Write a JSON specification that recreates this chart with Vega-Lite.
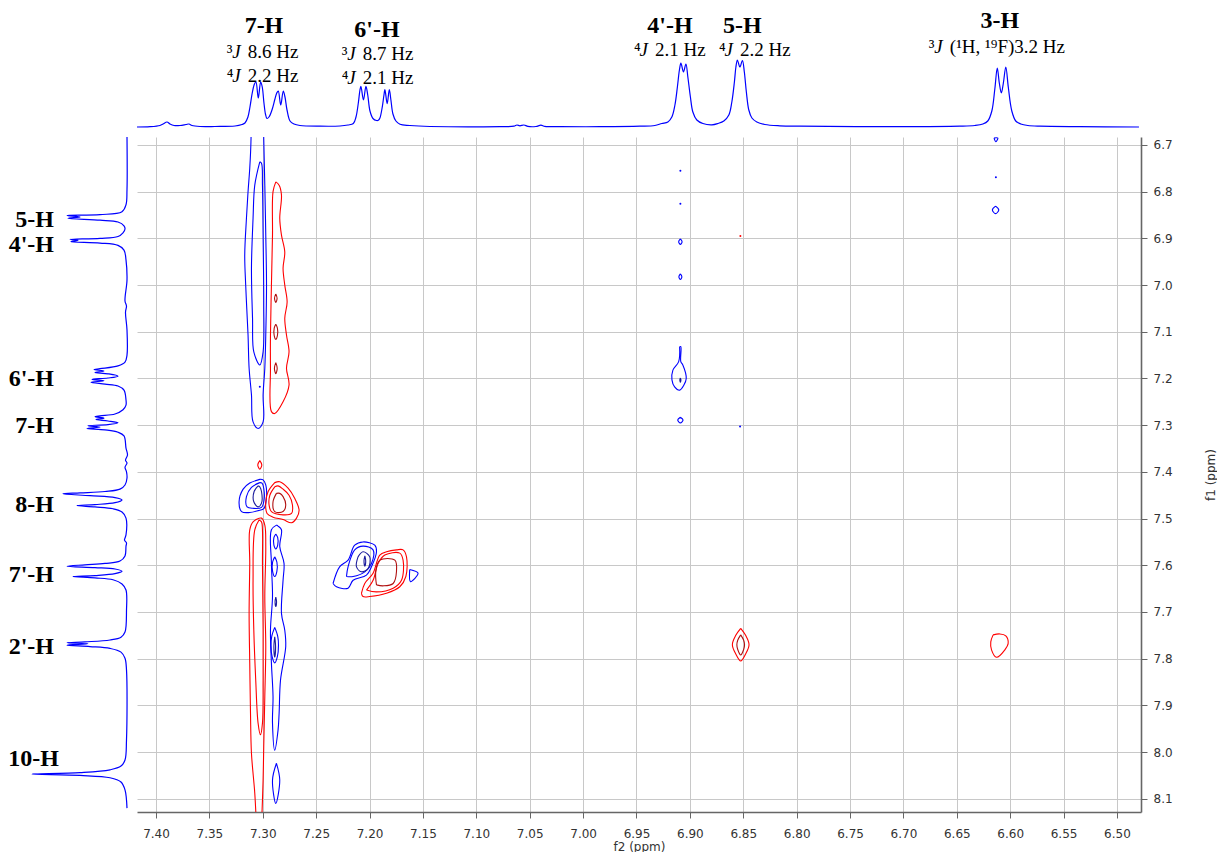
{
"$schema": "https://vega.github.io/schema/vega-lite/v6.json",
"padding": 0,
"background": "white",
"config": {"view": {"stroke": null}},
"columns": 2,
"spacing": 8,
"bounds": "flush",
"datasets": {
"top": [
{"x":7.4178,"v":0},{"x":7.4056,"v":0.3},{"x":7.3963,"v":1.5},{"x":7.3934,"v":3},{"x":7.3897,"v":5},{"x":7.3869,"v":3},{"x":7.3831,"v":1.5},{"x":7.3775,"v":1.5},{"x":7.3719,"v":2.5},{"x":7.3691,"v":3},{"x":7.3663,"v":1.5},{"x":7.3588,"v":0.5},{"x":7.3448,"v":0.5},{"x":7.3260,"v":1},{"x":7.3195,"v":2.5},{"x":7.3167,"v":4},{"x":7.3139,"v":10},{"x":7.3120,"v":20},{"x":7.3097,"v":35},{"x":7.3078,"v":43},{"x":7.3064,"v":45},{"x":7.3042,"v":29},{"x":7.3020,"v":45},{"x":7.3005,"v":40},{"x":7.2989,"v":24},{"x":7.2975,"v":13},{"x":7.2961,"v":8.5},{"x":7.2942,"v":10},{"x":7.2914,"v":17},{"x":7.2886,"v":28},{"x":7.2869,"v":34},{"x":7.2855,"v":36},{"x":7.2832,"v":22},{"x":7.2808,"v":36},{"x":7.2792,"v":30},{"x":7.2773,"v":17},{"x":7.2745,"v":6},{"x":7.2708,"v":3},{"x":7.2652,"v":1.5},{"x":7.2464,"v":0.8},{"x":7.2277,"v":1},{"x":7.2202,"v":2},{"x":7.2152,"v":3.5},{"x":7.2127,"v":10},{"x":7.2104,"v":25},{"x":7.2090,"v":37},{"x":7.2081,"v":40.7},{"x":7.2057,"v":27},{"x":7.2034,"v":40.7},{"x":7.2017,"v":32},{"x":7.1996,"v":16},{"x":7.1968,"v":8.5},{"x":7.1935,"v":6.5},{"x":7.1918,"v":6.7},{"x":7.1903,"v":9},{"x":7.1881,"v":20},{"x":7.1865,"v":32},{"x":7.1856,"v":37.4},{"x":7.1835,"v":23.4},{"x":7.1815,"v":37.4},{"x":7.1800,"v":27},{"x":7.1781,"v":13},{"x":7.1753,"v":6},{"x":7.1715,"v":2.7},{"x":7.1622,"v":1.5},{"x":7.1434,"v":0.5},{"x":7.0779,"v":0.3},{"x":7.0648,"v":0.8},{"x":7.0620,"v":2},{"x":7.0592,"v":1.2},{"x":7.0554,"v":2},{"x":7.0517,"v":0.6},{"x":7.0442,"v":0.5},{"x":7.0395,"v":1.8},{"x":7.0358,"v":0.6},{"x":7.0217,"v":0.3},{"x":6.9843,"v":0.3},{"x":6.9468,"v":0.8},{"x":6.9328,"v":1.5},{"x":6.9263,"v":3.5},{"x":6.9206,"v":5},{"x":6.9169,"v":10},{"x":6.9140,"v":22},{"x":6.9117,"v":40},{"x":6.9098,"v":57},{"x":6.9084,"v":64},{"x":6.9060,"v":55},{"x":6.9037,"v":63},{"x":6.9019,"v":50},{"x":6.8995,"v":30},{"x":6.8972,"v":15},{"x":6.8935,"v":7},{"x":6.8878,"v":3.5},{"x":6.8794,"v":2.2},{"x":6.8738,"v":3.5},{"x":6.8682,"v":6},{"x":6.8635,"v":12},{"x":6.8607,"v":25},{"x":6.8583,"v":45},{"x":6.8569,"v":60},{"x":6.8555,"v":67},{"x":6.8532,"v":60},{"x":6.8508,"v":66.5},{"x":6.8490,"v":55},{"x":6.8471,"v":35},{"x":6.8448,"v":17},{"x":6.8419,"v":9},{"x":6.8373,"v":5},{"x":6.8298,"v":2.5},{"x":6.8157,"v":1.2},{"x":6.7970,"v":0.8},{"x":6.7034,"v":0.3},{"x":6.6472,"v":0.8},{"x":6.6331,"v":1.5},{"x":6.6256,"v":3},{"x":6.6210,"v":6},{"x":6.6172,"v":16},{"x":6.6144,"v":38},{"x":6.6121,"v":59},{"x":6.6102,"v":44},{"x":6.6083,"v":34},{"x":6.6064,"v":44},{"x":6.6041,"v":60},{"x":6.6018,"v":40},{"x":6.5985,"v":16},{"x":6.5948,"v":6},{"x":6.5901,"v":3},{"x":6.5835,"v":1.5},{"x":6.5723,"v":0.8},{"x":6.5348,"v":0.3},{"x":6.4794,"v":0}
],
"left": [
{"y":6.683,"v":0},{"y":6.796,"v":0},{"y":6.828,"v":1},{"y":6.843,"v":5},{"y":6.849,"v":27},{"y":6.851,"v":60},{"y":6.854,"v":47},{"y":6.857,"v":59},{"y":6.861,"v":27},{"y":6.865,"v":9},{"y":6.873,"v":3},{"y":6.880,"v":2},{"y":6.888,"v":4},{"y":6.896,"v":9},{"y":6.900,"v":27},{"y":6.902,"v":57},{"y":6.904,"v":49},{"y":6.907,"v":56},{"y":6.910,"v":27},{"y":6.915,"v":9},{"y":6.925,"v":3},{"y":6.946,"v":1},{"y":6.989,"v":0},{"y":7.034,"v":2},{"y":7.045,"v":0.5},{"y":7.058,"v":1.5},{"y":7.096,"v":0},{"y":7.150,"v":0},{"y":7.165,"v":2},{"y":7.173,"v":9},{"y":7.179,"v":27},{"y":7.181,"v":33},{"y":7.184,"v":23},{"y":7.187,"v":32},{"y":7.190,"v":19},{"y":7.195,"v":9},{"y":7.199,"v":19},{"y":7.202,"v":35},{"y":7.205,"v":23},{"y":7.208,"v":36},{"y":7.212,"v":22},{"y":7.216,"v":9},{"y":7.225,"v":3},{"y":7.246,"v":1},{"y":7.257,"v":1},{"y":7.267,"v":4},{"y":7.276,"v":12},{"y":7.280,"v":27},{"y":7.282,"v":32},{"y":7.285,"v":23},{"y":7.288,"v":31},{"y":7.291,"v":19},{"y":7.295,"v":9},{"y":7.299,"v":19},{"y":7.301,"v":39},{"y":7.304,"v":27},{"y":7.307,"v":40},{"y":7.310,"v":22},{"y":7.315,"v":9},{"y":7.323,"v":3},{"y":7.349,"v":1},{"y":7.364,"v":-0.5},{"y":7.375,"v":1.5},{"y":7.381,"v":0},{"y":7.390,"v":2},{"y":7.400,"v":0.5},{"y":7.413,"v":0},{"y":7.428,"v":2},{"y":7.437,"v":7},{"y":7.442,"v":22},{"y":7.445,"v":47},{"y":7.447,"v":64},{"y":7.451,"v":37},{"y":7.455,"v":12},{"y":7.460,"v":5},{"y":7.466,"v":12},{"y":7.470,"v":32},{"y":7.472,"v":50},{"y":7.475,"v":32},{"y":7.479,"v":14},{"y":7.486,"v":5},{"y":7.499,"v":1},{"y":7.535,"v":1},{"y":7.546,"v":2.5},{"y":7.552,"v":0.5},{"y":7.559,"v":1},{"y":7.580,"v":2},{"y":7.591,"v":7},{"y":7.596,"v":22},{"y":7.599,"v":42},{"y":7.602,"v":60},{"y":7.605,"v":32},{"y":7.608,"v":12},{"y":7.613,"v":5},{"y":7.618,"v":12},{"y":7.622,"v":32},{"y":7.624,"v":54},{"y":7.627,"v":32},{"y":7.631,"v":14},{"y":7.640,"v":5},{"y":7.653,"v":1},{"y":7.696,"v":0.5},{"y":7.743,"v":2},{"y":7.754,"v":6},{"y":7.760,"v":17},{"y":7.764,"v":42},{"y":7.766,"v":60},{"y":7.768,"v":39},{"y":7.771,"v":60},{"y":7.774,"v":37},{"y":7.778,"v":17},{"y":7.786,"v":6},{"y":7.799,"v":2},{"y":7.824,"v":0.5},{"y":7.974,"v":0.5},{"y":8.017,"v":2},{"y":8.030,"v":6},{"y":8.038,"v":17},{"y":8.044,"v":47},{"y":8.047,"v":95},{"y":8.050,"v":47},{"y":8.055,"v":17},{"y":8.064,"v":6},{"y":8.081,"v":2},{"y":8.120,"v":0}
],
"toplabels": [
{"x":7.2989,"v":94,"t":"7-H"},{"x":7.1931,"v":90,"t":"6'-H"},{"x":6.9187,"v":94,"t":"4'-H"},{"x":6.8509,"v":94.5,"t":"5-H"},{"x":6.6097,"v":99.5,"t":"3-H"}
],
"jlines": [
{"x":7.3338,"v":69.5,"sup":"³","rest":"8.6 Hz"},{"x":7.3338,"v":45.5,"sup":"⁴","rest":"2.2 Hz"},
{"x":7.2261,"v":67,"sup":"³","rest":"8.7 Hz"},{"x":7.2261,"v":43.5,"sup":"⁴","rest":"2.1 Hz"},
{"x":6.9524,"v":71,"sup":"⁴","rest":"2.1 Hz"},{"x":6.8728,"v":71,"sup":"⁴","rest":"2.2 Hz"},
{"x":6.6762,"v":74.5,"sup":"³","rest":"(¹H, ¹⁹F)3.2 Hz"}
],
"leftlabels": [
{"t":"5-H","v":73,"y":6.8756},{"t":"4'-H","v":73,"y":6.929},{"t":"6'-H","v":73,"y":7.216},{"t":"7-H","v":73,"y":7.3167},{"t":"8-H","v":73,"y":7.4859},{"t":"7'-H","v":73,"y":7.6358},{"t":"2'-H","v":73,"y":7.7899},{"t":"10-H","v":68,"y":8.0298}
],
"dots": [
{"k":"b","x":6.9089,"y":6.755},{"k":"b","x":6.9089,"y":6.826},{"k":"r","x":6.8527,"y":6.895},{"k":"b","x":6.8530,"y":7.303},{"k":"b","x":7.3028,"y":7.2175},{"k":"b","x":6.6134,"y":6.769}
],
"contours": [
{"c":"A1","k":"b","x":7.3110,"y":6.660},{"c":"A1","k":"b","x":7.3110,"y":6.686},{"c":"A1","k":"b","x":7.3122,"y":6.750},{"c":"A1","k":"b","x":7.3138,"y":6.800},{"c":"A1","k":"b","x":7.3153,"y":6.857},{"c":"A1","k":"b","x":7.3169,"y":6.936},{"c":"A1","k":"b","x":7.3160,"y":7.000},{"c":"A1","k":"b","x":7.3150,"y":7.050},{"c":"A1","k":"b","x":7.3138,"y":7.107},{"c":"A1","k":"b","x":7.3128,"y":7.178},{"c":"A1","k":"b","x":7.3106,"y":7.235},{"c":"A1","k":"b","x":7.3091,"y":7.293},{"c":"A1","k":"b","x":7.3044,"y":7.307},{"c":"A1","k":"b","x":7.2997,"y":7.293},{"c":"A1","k":"b","x":7.2997,"y":7.235},{"c":"A1","k":"b","x":7.2981,"y":7.178},{"c":"A1","k":"b","x":7.2972,"y":7.107},{"c":"A1","k":"b","x":7.2965,"y":7.000},{"c":"A1","k":"b","x":7.2972,"y":6.893},{"c":"A1","k":"b","x":7.2981,"y":6.786},{"c":"A1","k":"b","x":7.2991,"y":6.686},{"c":"A1","k":"b","x":7.2991,"y":6.660},
{"c":"A2","k":"b","x":7.3028,"y":6.736},{"c":"A2","k":"b","x":7.3075,"y":6.786},{"c":"A2","k":"b","x":7.3091,"y":6.857},{"c":"A2","k":"b","x":7.3106,"y":6.964},{"c":"A2","k":"b","x":7.3096,"y":7.071},{"c":"A2","k":"b","x":7.3084,"y":7.143},{"c":"A2","k":"b","x":7.3028,"y":7.171},{"c":"A2","k":"b","x":7.2997,"y":7.143},{"c":"A2","k":"b","x":7.2991,"y":7.036},{"c":"A2","k":"b","x":7.2997,"y":6.893},{"c":"A2","k":"b","x":7.3003,"y":6.786},{"c":"A2","k":"b","x":7.3012,"y":6.739},{"c":"A2","k":"b","x":7.3028,"y":6.736},
{"c":"B1","k":"r","x":7.2878,"y":6.779},{"c":"B1","k":"r","x":7.2847,"y":6.786},{"c":"B1","k":"r","x":7.2825,"y":6.807},{"c":"B1","k":"r","x":7.2841,"y":6.857},{"c":"B1","k":"r","x":7.2825,"y":6.893},{"c":"B1","k":"r","x":7.2794,"y":6.929},{"c":"B1","k":"r","x":7.2810,"y":6.964},{"c":"B1","k":"r","x":7.2794,"y":7.000},{"c":"B1","k":"r","x":7.2772,"y":7.036},{"c":"B1","k":"r","x":7.2794,"y":7.071},{"c":"B1","k":"r","x":7.2778,"y":7.107},{"c":"B1","k":"r","x":7.2754,"y":7.143},{"c":"B1","k":"r","x":7.2778,"y":7.178},{"c":"B1","k":"r","x":7.2754,"y":7.214},{"c":"B1","k":"r","x":7.2810,"y":7.250},{"c":"B1","k":"r","x":7.2888,"y":7.275},{"c":"B1","k":"r","x":7.2919,"y":7.271},{"c":"B1","k":"r","x":7.2928,"y":7.178},{"c":"B1","k":"r","x":7.2928,"y":7.107},{"c":"B1","k":"r","x":7.2919,"y":7.000},{"c":"B1","k":"r","x":7.2909,"y":6.893},{"c":"B1","k":"r","x":7.2904,"y":6.800},{"c":"B1","k":"r","x":7.2878,"y":6.779},
{"c":"B2","k":"dr","x":7.2878,"y":7.019},{"c":"B2","k":"dr","x":7.2866,"y":7.028},{"c":"B2","k":"dr","x":7.2878,"y":7.037},{"c":"B2","k":"dr","x":7.2890,"y":7.028},{"c":"B2","k":"dr","x":7.2878,"y":7.019},
{"c":"B3","k":"dr","x":7.2878,"y":7.084},{"c":"B3","k":"dr","x":7.2863,"y":7.092},{"c":"B3","k":"dr","x":7.2863,"y":7.108},{"c":"B3","k":"dr","x":7.2878,"y":7.116},{"c":"B3","k":"dr","x":7.2893,"y":7.108},{"c":"B3","k":"dr","x":7.2893,"y":7.092},{"c":"B3","k":"dr","x":7.2878,"y":7.084},
{"c":"B4","k":"dr","x":7.2878,"y":7.166},{"c":"B4","k":"dr","x":7.2865,"y":7.178},{"c":"B4","k":"dr","x":7.2878,"y":7.190},{"c":"B4","k":"dr","x":7.2891,"y":7.178},{"c":"B4","k":"dr","x":7.2878,"y":7.166},
{"c":"R1","k":"r","x":7.3028,"y":7.376},{"c":"R1","k":"r","x":7.3047,"y":7.385},{"c":"R1","k":"r","x":7.3028,"y":7.394},{"c":"R1","k":"r","x":7.3009,"y":7.385},{"c":"R1","k":"r","x":7.3028,"y":7.376},
{"c":"C1","k":"b","x":7.3028,"y":7.416},{"c":"C1","k":"b","x":7.3122,"y":7.424},{"c":"C1","k":"b","x":7.3184,"y":7.437},{"c":"C1","k":"b","x":7.3222,"y":7.464},{"c":"C1","k":"b","x":7.3199,"y":7.485},{"c":"C1","k":"b","x":7.3122,"y":7.487},{"c":"C1","k":"b","x":7.3044,"y":7.483},{"c":"C1","k":"b","x":7.2988,"y":7.478},{"c":"C1","k":"b","x":7.2965,"y":7.453},{"c":"C1","k":"b","x":7.2972,"y":7.428},{"c":"C1","k":"b","x":7.2997,"y":7.417},{"c":"C1","k":"b","x":7.3028,"y":7.416},
{"c":"C2","k":"b","x":7.3028,"y":7.423},{"c":"C2","k":"b","x":7.3106,"y":7.433},{"c":"C2","k":"b","x":7.3153,"y":7.453},{"c":"C2","k":"b","x":7.3147,"y":7.475},{"c":"C2","k":"b","x":7.3091,"y":7.478},{"c":"C2","k":"b","x":7.3012,"y":7.476},{"c":"C2","k":"b","x":7.2988,"y":7.460},{"c":"C2","k":"b","x":7.2991,"y":7.435},{"c":"C2","k":"b","x":7.3007,"y":7.424},{"c":"C2","k":"b","x":7.3028,"y":7.423},
{"c":"C3","k":"db","x":7.3044,"y":7.430},{"c":"C3","k":"db","x":7.3081,"y":7.442},{"c":"C3","k":"db","x":7.3084,"y":7.464},{"c":"C3","k":"db","x":7.3044,"y":7.475},{"c":"C3","k":"db","x":7.3012,"y":7.467},{"c":"C3","k":"db","x":7.3012,"y":7.442},{"c":"C3","k":"db","x":7.3028,"y":7.432},{"c":"C3","k":"db","x":7.3044,"y":7.430},
{"c":"D1","k":"r","x":7.2888,"y":7.423},{"c":"D1","k":"r","x":7.2950,"y":7.442},{"c":"D1","k":"r","x":7.2972,"y":7.464},{"c":"D1","k":"r","x":7.2960,"y":7.489},{"c":"D1","k":"r","x":7.2904,"y":7.497},{"c":"D1","k":"r","x":7.2810,"y":7.502},{"c":"D1","k":"r","x":7.2731,"y":7.509},{"c":"D1","k":"r","x":7.2684,"y":7.499},{"c":"D1","k":"r","x":7.2660,"y":7.482},{"c":"D1","k":"r","x":7.2700,"y":7.457},{"c":"D1","k":"r","x":7.2763,"y":7.435},{"c":"D1","k":"r","x":7.2841,"y":7.421},{"c":"D1","k":"r","x":7.2888,"y":7.423},
{"c":"D2","k":"r","x":7.2888,"y":7.432},{"c":"D2","k":"r","x":7.2934,"y":7.450},{"c":"D2","k":"r","x":7.2941,"y":7.471},{"c":"D2","k":"r","x":7.2919,"y":7.485},{"c":"D2","k":"r","x":7.2810,"y":7.492},{"c":"D2","k":"r","x":7.2731,"y":7.489},{"c":"D2","k":"r","x":7.2722,"y":7.471},{"c":"D2","k":"r","x":7.2754,"y":7.450},{"c":"D2","k":"r","x":7.2810,"y":7.437},{"c":"D2","k":"r","x":7.2857,"y":7.430},{"c":"D2","k":"r","x":7.2888,"y":7.432},
{"c":"D3","k":"dr","x":7.2872,"y":7.446},{"c":"D3","k":"dr","x":7.2904,"y":7.464},{"c":"D3","k":"dr","x":7.2888,"y":7.485},{"c":"D3","k":"dr","x":7.2810,"y":7.485},{"c":"D3","k":"dr","x":7.2785,"y":7.471},{"c":"D3","k":"dr","x":7.2810,"y":7.453},{"c":"D3","k":"dr","x":7.2841,"y":7.446},{"c":"D3","k":"dr","x":7.2872,"y":7.446},
{"c":"E1","k":"r","x":7.3059,"y":8.160},{"c":"E1","k":"r","x":7.3075,"y":8.088},{"c":"E1","k":"r","x":7.3106,"y":8.003},{"c":"E1","k":"r","x":7.3115,"y":7.917},{"c":"E1","k":"r","x":7.3122,"y":7.810},{"c":"E1","k":"r","x":7.3128,"y":7.703},{"c":"E1","k":"r","x":7.3122,"y":7.596},{"c":"E1","k":"r","x":7.3122,"y":7.524},{"c":"E1","k":"r","x":7.3091,"y":7.507},{"c":"E1","k":"r","x":7.3012,"y":7.499},{"c":"E1","k":"r","x":7.2981,"y":7.514},{"c":"E1","k":"r","x":7.2972,"y":7.560},{"c":"E1","k":"r","x":7.2981,"y":7.667},{"c":"E1","k":"r","x":7.2972,"y":7.774},{"c":"E1","k":"r","x":7.2981,"y":7.881},{"c":"E1","k":"r","x":7.2991,"y":7.988},{"c":"E1","k":"r","x":7.2997,"y":8.060},{"c":"E1","k":"r","x":7.3012,"y":8.160},
{"c":"E2","k":"r","x":7.3035,"y":7.503},{"c":"E2","k":"r","x":7.3075,"y":7.524},{"c":"E2","k":"r","x":7.3091,"y":7.632},{"c":"E2","k":"r","x":7.3084,"y":7.739},{"c":"E2","k":"r","x":7.3066,"y":7.846},{"c":"E2","k":"r","x":7.3044,"y":7.938},{"c":"E2","k":"r","x":7.3022,"y":7.963},{"c":"E2","k":"r","x":7.3003,"y":7.938},{"c":"E2","k":"r","x":7.2997,"y":7.846},{"c":"E2","k":"r","x":7.2997,"y":7.739},{"c":"E2","k":"r","x":7.3003,"y":7.596},{"c":"E2","k":"r","x":7.3003,"y":7.524},{"c":"E2","k":"r","x":7.3012,"y":7.507},{"c":"E2","k":"r","x":7.3035,"y":7.503},
{"c":"F1","k":"b","x":7.2872,"y":7.514},{"c":"F1","k":"b","x":7.2919,"y":7.524},{"c":"F1","k":"b","x":7.2919,"y":7.596},{"c":"F1","k":"b","x":7.2909,"y":7.667},{"c":"F1","k":"b","x":7.2928,"y":7.739},{"c":"F1","k":"b","x":7.2919,"y":7.810},{"c":"F1","k":"b","x":7.2904,"y":7.881},{"c":"F1","k":"b","x":7.2909,"y":7.938},{"c":"F1","k":"b","x":7.2888,"y":7.996},{"c":"F1","k":"b","x":7.2857,"y":7.953},{"c":"F1","k":"b","x":7.2847,"y":7.917},{"c":"F1","k":"b","x":7.2834,"y":7.846},{"c":"F1","k":"b","x":7.2785,"y":7.774},{"c":"F1","k":"b","x":7.2794,"y":7.739},{"c":"F1","k":"b","x":7.2825,"y":7.703},{"c":"F1","k":"b","x":7.2810,"y":7.632},{"c":"F1","k":"b","x":7.2801,"y":7.596},{"c":"F1","k":"b","x":7.2841,"y":7.560},{"c":"F1","k":"b","x":7.2825,"y":7.524},{"c":"F1","k":"b","x":7.2857,"y":7.516},{"c":"F1","k":"b","x":7.2872,"y":7.514},
{"c":"F2","k":"b","x":7.2878,"y":7.533},{"c":"F2","k":"b","x":7.2860,"y":7.541},{"c":"F2","k":"b","x":7.2860,"y":7.557},{"c":"F2","k":"b","x":7.2878,"y":7.565},{"c":"F2","k":"b","x":7.2896,"y":7.557},{"c":"F2","k":"b","x":7.2896,"y":7.541},{"c":"F2","k":"b","x":7.2878,"y":7.533},
{"c":"F3","k":"b","x":7.2888,"y":7.582},{"c":"F3","k":"b","x":7.2868,"y":7.593},{"c":"F3","k":"b","x":7.2868,"y":7.613},{"c":"F3","k":"b","x":7.2888,"y":7.624},{"c":"F3","k":"b","x":7.2908,"y":7.613},{"c":"F3","k":"b","x":7.2908,"y":7.593},{"c":"F3","k":"b","x":7.2888,"y":7.582},
{"c":"F4","k":"db","x":7.2878,"y":7.668},{"c":"F4","k":"db","x":7.2871,"y":7.678},{"c":"F4","k":"db","x":7.2878,"y":7.688},{"c":"F4","k":"db","x":7.2885,"y":7.678},{"c":"F4","k":"db","x":7.2878,"y":7.668},
{"c":"F5","k":"b","x":7.2888,"y":7.733},{"c":"F5","k":"b","x":7.2860,"y":7.752},{"c":"F5","k":"b","x":7.2853,"y":7.771},{"c":"F5","k":"b","x":7.2863,"y":7.795},{"c":"F5","k":"b","x":7.2888,"y":7.809},{"c":"F5","k":"b","x":7.2913,"y":7.795},{"c":"F5","k":"b","x":7.2923,"y":7.771},{"c":"F5","k":"b","x":7.2916,"y":7.752},{"c":"F5","k":"b","x":7.2888,"y":7.733},
{"c":"F6","k":"db","x":7.2888,"y":7.753},{"c":"F6","k":"db","x":7.2880,"y":7.775},{"c":"F6","k":"db","x":7.2888,"y":7.797},{"c":"F6","k":"db","x":7.2896,"y":7.775},{"c":"F6","k":"db","x":7.2888,"y":7.753},
{"c":"G1","k":"b","x":7.2872,"y":8.024},{"c":"G1","k":"b","x":7.2909,"y":8.060},{"c":"G1","k":"b","x":7.2878,"y":8.110},{"c":"G1","k":"b","x":7.2841,"y":8.060},{"c":"G1","k":"b","x":7.2872,"y":8.024},
{"c":"H1","k":"b","x":7.2342,"y":7.639},{"c":"H1","k":"b","x":7.2279,"y":7.603},{"c":"H1","k":"b","x":7.2201,"y":7.589},{"c":"H1","k":"b","x":7.2139,"y":7.557},{"c":"H1","k":"b","x":7.2061,"y":7.550},{"c":"H1","k":"b","x":7.1951,"y":7.557},{"c":"H1","k":"b","x":7.1935,"y":7.571},{"c":"H1","k":"b","x":7.1982,"y":7.603},{"c":"H1","k":"b","x":7.2029,"y":7.621},{"c":"H1","k":"b","x":7.2154,"y":7.632},{"c":"H1","k":"b","x":7.2201,"y":7.649},{"c":"H1","k":"b","x":7.2310,"y":7.646},{"c":"H1","k":"b","x":7.2342,"y":7.639},
{"c":"H2","k":"b","x":7.2216,"y":7.624},{"c":"H2","k":"b","x":7.2201,"y":7.603},{"c":"H2","k":"b","x":7.2139,"y":7.567},{"c":"H2","k":"b","x":7.2061,"y":7.559},{"c":"H2","k":"b","x":7.1967,"y":7.567},{"c":"H2","k":"b","x":7.1982,"y":7.596},{"c":"H2","k":"b","x":7.2044,"y":7.614},{"c":"H2","k":"b","x":7.2154,"y":7.624},{"c":"H2","k":"b","x":7.2216,"y":7.624},
{"c":"H3","k":"db","x":7.2108,"y":7.582},{"c":"H3","k":"db","x":7.2123,"y":7.603},{"c":"H3","k":"db","x":7.2076,"y":7.614},{"c":"H3","k":"db","x":7.2014,"y":7.607},{"c":"H3","k":"db","x":7.1998,"y":7.582},{"c":"H3","k":"db","x":7.2061,"y":7.571},{"c":"H3","k":"db","x":7.2108,"y":7.582},
{"c":"H4","k":"db","x":7.2044,"y":7.580},{"c":"H4","k":"db","x":7.2036,"y":7.591},{"c":"H4","k":"db","x":7.2044,"y":7.602},{"c":"H4","k":"db","x":7.2052,"y":7.591},{"c":"H4","k":"db","x":7.2044,"y":7.580},
{"c":"I1","k":"r","x":7.2076,"y":7.660},{"c":"I1","k":"r","x":7.2045,"y":7.639},{"c":"I1","k":"r","x":7.1967,"y":7.617},{"c":"I1","k":"r","x":7.1904,"y":7.578},{"c":"I1","k":"r","x":7.1841,"y":7.571},{"c":"I1","k":"r","x":7.1748,"y":7.567},{"c":"I1","k":"r","x":7.1686,"y":7.567},{"c":"I1","k":"r","x":7.1654,"y":7.582},{"c":"I1","k":"r","x":7.1660,"y":7.624},{"c":"I1","k":"r","x":7.1717,"y":7.646},{"c":"I1","k":"r","x":7.1841,"y":7.660},{"c":"I1","k":"r","x":7.1998,"y":7.667},{"c":"I1","k":"r","x":7.2061,"y":7.667},{"c":"I1","k":"r","x":7.2076,"y":7.660},
{"c":"I2","k":"r","x":7.2029,"y":7.653},{"c":"I2","k":"r","x":7.1967,"y":7.632},{"c":"I2","k":"r","x":7.1920,"y":7.596},{"c":"I2","k":"r","x":7.1857,"y":7.578},{"c":"I2","k":"r","x":7.1717,"y":7.574},{"c":"I2","k":"r","x":7.1686,"y":7.589},{"c":"I2","k":"r","x":7.1701,"y":7.632},{"c":"I2","k":"r","x":7.1779,"y":7.649},{"c":"I2","k":"r","x":7.1935,"y":7.657},{"c":"I2","k":"r","x":7.2029,"y":7.653},
{"c":"I3","k":"dr","x":7.1935,"y":7.642},{"c":"I3","k":"dr","x":7.1942,"y":7.614},{"c":"I3","k":"dr","x":7.1904,"y":7.589},{"c":"I3","k":"dr","x":7.1763,"y":7.589},{"c":"I3","k":"dr","x":7.1748,"y":7.614},{"c":"I3","k":"dr","x":7.1779,"y":7.639},{"c":"I3","k":"dr","x":7.1873,"y":7.644},{"c":"I3","k":"dr","x":7.1935,"y":7.642},
{"c":"J1","k":"b","x":7.1624,"y":7.609},{"c":"J1","k":"b","x":7.1546,"y":7.617},{"c":"J1","k":"b","x":7.1617,"y":7.635},{"c":"J1","k":"b","x":7.1624,"y":7.609},
{"c":"K1","k":"b","x":6.9096,"y":7.132},{"c":"K1","k":"b","x":6.9105,"y":7.164},{"c":"K1","k":"b","x":6.9159,"y":7.182},{"c":"K1","k":"b","x":6.9168,"y":7.203},{"c":"K1","k":"b","x":6.9143,"y":7.218},{"c":"K1","k":"b","x":6.9096,"y":7.225},{"c":"K1","k":"b","x":6.9056,"y":7.214},{"c":"K1","k":"b","x":6.9034,"y":7.200},{"c":"K1","k":"b","x":6.9066,"y":7.171},{"c":"K1","k":"b","x":6.9085,"y":7.164},{"c":"K1","k":"b","x":6.9085,"y":7.132},{"c":"K1","k":"b","x":6.9096,"y":7.132},
{"c":"K2","k":"db","x":6.9089,"y":7.199},{"c":"K2","k":"db","x":6.9084,"y":7.203},{"c":"K2","k":"db","x":6.9089,"y":7.208},{"c":"K2","k":"db","x":6.9094,"y":7.203},{"c":"K2","k":"db","x":6.9089,"y":7.199},
{"c":"S1","k":"b","x":6.9089,"y":6.901},{"c":"S1","k":"b","x":6.9073,"y":6.907},{"c":"S1","k":"b","x":6.9089,"y":6.913},{"c":"S1","k":"b","x":6.9105,"y":6.907},{"c":"S1","k":"b","x":6.9089,"y":6.901},
{"c":"S2","k":"b","x":6.9089,"y":6.976},{"c":"S2","k":"b","x":6.9075,"y":6.982},{"c":"S2","k":"b","x":6.9089,"y":6.988},{"c":"S2","k":"b","x":6.9103,"y":6.982},{"c":"S2","k":"b","x":6.9089,"y":6.976},
{"c":"S3","k":"b","x":6.9089,"y":7.283},{"c":"S3","k":"b","x":6.9064,"y":7.289},{"c":"S3","k":"b","x":6.9089,"y":7.295},{"c":"S3","k":"b","x":6.9114,"y":7.289},{"c":"S3","k":"b","x":6.9089,"y":7.283},
{"c":"S4","k":"b","x":6.6137,"y":6.831},{"c":"S4","k":"b","x":6.6107,"y":6.839},{"c":"S4","k":"b","x":6.6137,"y":6.847},{"c":"S4","k":"b","x":6.6167,"y":6.839},{"c":"S4","k":"b","x":6.6137,"y":6.831},
{"c":"S5","k":"b","x":6.6152,"y":6.685},{"c":"S5","k":"b","x":6.6116,"y":6.685},{"c":"S5","k":"b","x":6.6134,"y":6.693},{"c":"S5","k":"b","x":6.6152,"y":6.685},
{"c":"L1","k":"r","x":6.8524,"y":7.735},{"c":"L1","k":"r","x":6.8478,"y":7.750},{"c":"L1","k":"r","x":6.8446,"y":7.770},{"c":"L1","k":"r","x":6.8478,"y":7.790},{"c":"L1","k":"r","x":6.8524,"y":7.805},{"c":"L1","k":"r","x":6.8570,"y":7.790},{"c":"L1","k":"r","x":6.8602,"y":7.770},{"c":"L1","k":"r","x":6.8570,"y":7.750},{"c":"L1","k":"r","x":6.8524,"y":7.735},
{"c":"L2","k":"dr","x":6.8524,"y":7.749},{"c":"L2","k":"dr","x":6.8497,"y":7.760},{"c":"L2","k":"dr","x":6.8488,"y":7.770},{"c":"L2","k":"dr","x":6.8497,"y":7.781},{"c":"L2","k":"dr","x":6.8524,"y":7.792},{"c":"L2","k":"dr","x":6.8551,"y":7.781},{"c":"L2","k":"dr","x":6.8560,"y":7.770},{"c":"L2","k":"dr","x":6.8551,"y":7.760},{"c":"L2","k":"dr","x":6.8524,"y":7.749},
{"c":"M1","k":"r","x":6.6160,"y":7.749},{"c":"M1","k":"r","x":6.6097,"y":7.747},{"c":"M1","k":"r","x":6.6041,"y":7.751},{"c":"M1","k":"r","x":6.6019,"y":7.767},{"c":"M1","k":"r","x":6.6050,"y":7.781},{"c":"M1","k":"r","x":6.6128,"y":7.797},{"c":"M1","k":"r","x":6.6175,"y":7.781},{"c":"M1","k":"r","x":6.6182,"y":7.764},{"c":"M1","k":"r","x":6.6160,"y":7.749}
]
},
"concat": [
{
 "width": 129, "height": 129,
 "data": {"values": []},
 "mark": "point"
},
{
 "width": 1004, "height": 129,
 "encoding": {
  "x": {"field": "x", "type": "quantitative", "scale": {"domain": [6.4775, 7.4178], "reverse": true, "nice": false, "zero": false}, "axis": null},
  "y": {"field": "v", "type": "quantitative", "scale": {"domain": [-2, 127], "nice": false, "zero": false}, "axis": null}
 },
 "layer": [
  {"data": {"name": "top"}, "mark": {"type": "line", "color": "#0000ff", "strokeWidth": 1.2, "interpolate": "catmull-rom"}, "encoding": {"order": {"value": null}}},
  {"data": {"name": "toplabels"}, "mark": {"type": "text", "font": "Liberation Serif", "fontWeight": "bold", "fontSize": 24, "align": "center", "baseline": "alphabetic", "color": "#000"}, "encoding": {"text": {"field": "t"}}},
  {"data": {"name": "jlines"}, "mark": {"type": "text", "font": "Liberation Serif", "fontSize": 19, "align": "left", "baseline": "alphabetic", "color": "#000"}, "encoding": {"text": {"field": "sup"}}},
  {"data": {"name": "jlines"}, "mark": {"type": "text", "text": "J", "font": "Liberation Serif", "fontStyle": "italic", "fontSize": 19, "align": "left", "baseline": "alphabetic", "dx": 5.5, "color": "#000"}},
  {"data": {"name": "jlines"}, "mark": {"type": "text", "font": "Liberation Serif", "fontSize": 19, "align": "left", "baseline": "alphabetic", "dx": 21, "color": "#000"}, "encoding": {"text": {"field": "rest"}}}
 ]
},
{
 "width": 129, "height": 675,
 "encoding": {
  "x": {"field": "v", "type": "quantitative", "scale": {"domain": [-2, 127], "reverse": true, "nice": false, "zero": false}, "axis": null},
  "y": {"field": "y", "type": "quantitative", "scale": {"domain": [6.6829, 8.1283], "reverse": true, "nice": false, "zero": false}, "axis": null}
 },
 "layer": [
  {"data": {"name": "left"}, "mark": {"type": "line", "color": "#0000ff", "strokeWidth": 1.2, "interpolate": "catmull-rom"}, "encoding": {"order": {"value": null}}},
  {"data": {"name": "leftlabels"}, "mark": {"type": "text", "font": "Liberation Serif", "fontWeight": "bold", "fontSize": 24, "align": "right", "baseline": "alphabetic", "color": "#000"}, "encoding": {"text": {"field": "t"}}}
 ]
},
{
 "width": 1004, "height": 675,
 "layer": [
  {
   "data": {"name": "contours"},
   "mark": {"type": "line", "clip": true, "strokeWidth": 1.1, "interpolate": "catmull-rom"},
   "encoding": {
    "x": {"field": "x", "type": "quantitative",
      "scale": {"domain": [6.4775, 7.4178], "reverse": true, "nice": false, "zero": false},
      "axis": {"orient": "bottom", "title": "f2 (ppm)",
        "values": [7.4,7.375,7.35,7.325,7.3,7.275,7.25,7.225,7.2,7.175,7.15,7.125,7.1,7.075,7.05,7.025,7.0,6.975,6.95,6.925,6.9,6.875,6.85,6.825,6.8,6.775,6.75,6.725,6.7,6.675,6.65,6.625,6.6,6.575,6.55,6.525,6.5],
        "labelExpr": "abs(datum.value*20-round(datum.value*20))<0.001 ? format(datum.value,'.2f') : ''",
        "labelOverlap": false, "labelFlush": false,
        "grid": true, "gridColor": "#c8c8c8", "gridWidth": 1,
        "gridOpacity": {"condition": {"test": "abs(datum.value*20-round(datum.value*20))<0.001", "value": 1}, "value": 0},
        "tickSize": {"condition": {"test": "abs(datum.value*20-round(datum.value*20))<0.001", "value": 6}, "value": 3},
        "tickColor": "#666", "tickWidth": 1, "domainColor": "#666", "domainWidth": 1.6,
        "labelFont": "DejaVu Sans", "labelFontSize": 12, "labelColor": "#333", "labelPadding": 10,
        "titleFont": "DejaVu Sans", "titleFontSize": 12, "titleFontWeight": "normal", "titleColor": "#333", "titlePadding": 2}},
    "y": {"field": "y", "type": "quantitative",
      "scale": {"domain": [6.6829, 8.1283], "reverse": true, "nice": false, "zero": false},
      "axis": {"orient": "right", "title": "f1 (ppm)", "titleAngle": 270,
        "values": [6.7,6.75,6.8,6.85,6.9,6.95,7.0,7.05,7.1,7.15,7.2,7.25,7.3,7.35,7.4,7.45,7.5,7.55,7.6,7.65,7.7,7.75,7.8,7.85,7.9,7.95,8.0,8.05,8.1],
        "labelExpr": "abs(datum.value*10-round(datum.value*10))<0.001 ? format(datum.value,'.1f') : ''",
        "labelOverlap": false, "labelFlush": false,
        "grid": true, "gridColor": "#c8c8c8", "gridWidth": 1,
        "gridOpacity": {"condition": {"test": "abs(datum.value*10-round(datum.value*10))<0.001", "value": 1}, "value": 0},
        "tickSize": {"condition": {"test": "abs(datum.value*10-round(datum.value*10))<0.001", "value": 6}, "value": 3},
        "tickColor": "#666", "tickWidth": 1, "domainColor": "#666", "domainWidth": 1.6,
        "labelFont": "DejaVu Sans", "labelFontSize": 12, "labelColor": "#333", "labelPadding": 6,
        "titleFont": "DejaVu Sans", "titleFontSize": 12, "titleFontWeight": "normal", "titleColor": "#333", "titlePadding": 45}},
    "detail": {"field": "c"},
    "color": {"field": "k", "type": "nominal", "scale": {"domain": ["b", "r", "db", "dr"], "range": ["#0000ff", "#ff0000", "#1c1c9c", "#b01010"]}, "legend": null},
    "order": {"value": null}
   }
  },
  {
   "data": {"name": "dots"},
   "mark": {"type": "point", "filled": true, "size": 4, "opacity": 1},
   "encoding": {
    "x": {"field": "x", "type": "quantitative"},
    "y": {"field": "y", "type": "quantitative"},
    "color": {"field": "k", "type": "nominal", "legend": null}
   }
  }
 ]
}
]
}
